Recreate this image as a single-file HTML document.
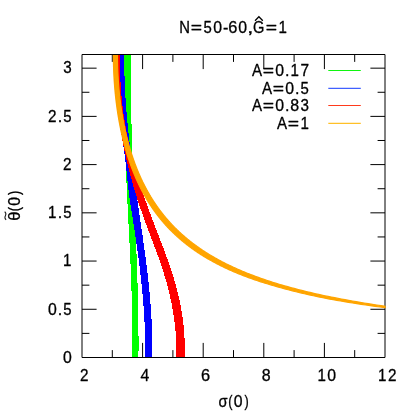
<!DOCTYPE html>
<html><head><meta charset="utf-8"><title>plot</title>
<style>html,body{margin:0;padding:0;background:#fff;overflow:hidden}svg{display:block;will-change:transform}</style></head>
<body>
<svg width="414" height="414" viewBox="0 0 414 414" font-family="Liberation Sans, sans-serif" font-size="15.9" fill="#000">
<style>text{stroke:#000;stroke-width:0.3px;stroke-linejoin:round}</style>
<rect width="414" height="414" fill="#fff"/>
<path d="M82.0,54.5H385.0V357.5H82.0ZM112.30,357.5v-7.4M112.30,54.5v7.4M142.60,357.5v-14.6M142.60,54.5v14.6M172.90,357.5v-7.4M172.90,54.5v7.4M203.20,357.5v-14.6M203.20,54.5v14.6M233.50,357.5v-7.4M233.50,54.5v7.4M263.80,357.5v-14.6M263.80,54.5v14.6M294.10,357.5v-7.4M294.10,54.5v7.4M324.40,357.5v-14.6M324.40,54.5v14.6M354.70,357.5v-7.4M354.70,54.5v7.4M82.0,333.39h7.4M385.0,333.39h-7.4M82.0,309.28h14.6M385.0,309.28h-14.6M82.0,285.16h7.4M385.0,285.16h-7.4M82.0,261.05h14.6M385.0,261.05h-14.6M82.0,236.94h7.4M385.0,236.94h-7.4M82.0,212.83h14.6M385.0,212.83h-14.6M82.0,188.72h7.4M385.0,188.72h-7.4M82.0,164.60h14.6M385.0,164.60h-14.6M82.0,140.49h7.4M385.0,140.49h-7.4M82.0,116.38h14.6M385.0,116.38h-14.6M82.0,92.27h7.4M385.0,92.27h-7.4M82.0,68.16h14.6M385.0,68.16h-14.6" fill="none" stroke="#000" stroke-width="1"/>
<clipPath id="c"><rect x="81.5" y="55.0" width="304.0" height="302.0"/></clipPath>
<g clip-path="url(#c)" shape-rendering="crispEdges">
<path d="M124.06,53.50 L124.06,54.78 L124.05,56.05 L124.04,57.33 L124.03,58.60 L124.02,59.88 L124.02,61.16 L124.01,62.43 L124.00,63.71 L124.00,64.99 L124.00,66.26 L123.99,67.54 L123.99,68.81 L123.99,70.09 L123.99,71.37 L123.99,72.64 L123.99,73.92 L123.99,75.19 L123.99,76.47 L123.99,77.75 L123.99,79.02 L124.00,80.30 L124.00,81.58 L124.01,82.85 L124.01,84.13 L124.02,85.40 L124.03,86.68 L124.03,87.96 L124.04,89.23 L124.05,90.51 L124.06,91.78 L124.07,93.06 L124.08,94.34 L124.09,95.61 L124.11,96.89 L124.12,98.17 L124.13,99.44 L124.15,100.72 L124.16,101.99 L124.18,103.27 L124.20,104.55 L124.21,105.82 L124.23,107.10 L124.25,108.37 L124.27,109.65 L124.29,110.93 L124.31,112.20 L124.33,113.48 L124.35,114.76 L124.38,116.03 L124.40,117.31 L124.42,118.58 L124.45,119.86 L124.47,121.14 L124.50,122.41 L124.53,123.69 L124.55,124.96 L124.58,126.24 L124.61,127.52 L124.64,128.79 L124.67,130.07 L124.70,131.35 L124.73,132.62 L124.76,133.90 L124.80,135.17 L124.83,136.45 L124.86,137.73 L124.90,139.00 L124.93,140.28 L124.97,141.55 L125.01,142.83 L125.04,144.11 L125.08,145.38 L125.12,146.66 L125.16,147.94 L125.20,149.21 L125.24,150.49 L125.28,151.76 L125.32,153.04 L125.36,154.32 L125.41,155.59 L125.45,156.87 L125.50,158.14 L125.54,159.42 L125.59,160.70 L125.63,161.97 L125.68,163.25 L125.73,164.53 L125.78,165.80 L125.82,167.08 L125.87,168.35 L125.92,169.63 L125.97,170.91 L126.03,172.18 L126.08,173.46 L126.13,174.73 L126.18,176.01 L126.24,177.29 L126.29,178.56 L126.35,179.84 L126.40,181.12 L126.46,182.39 L126.52,183.67 L126.57,184.94 L126.63,186.22 L126.69,187.50 L126.75,188.77 L126.81,190.05 L126.87,191.32 L126.93,192.60 L126.99,193.88 L127.05,195.15 L127.12,196.43 L127.18,197.71 L127.24,198.98 L127.31,200.26 L127.37,201.53 L127.43,202.81 L127.50,204.09 L127.56,205.36 L127.63,206.64 L127.69,207.91 L127.76,209.19 L127.82,210.47 L127.89,211.74 L127.95,213.02 L128.02,214.29 L128.08,215.57 L128.15,216.85 L128.22,218.12 L128.28,219.40 L128.35,220.68 L128.42,221.95 L128.48,223.23 L128.55,224.50 L128.62,225.78 L128.68,227.06 L128.75,228.33 L128.82,229.61 L128.88,230.88 L128.95,232.16 L129.01,233.44 L129.08,234.71 L129.14,235.99 L129.21,237.27 L129.28,238.54 L129.34,239.82 L129.41,241.09 L129.47,242.37 L129.53,243.65 L129.60,244.92 L129.66,246.20 L129.72,247.47 L129.79,248.75 L129.85,250.03 L129.91,251.30 L129.97,252.58 L130.03,253.86 L130.09,255.13 L130.15,256.41 L130.21,257.68 L130.27,258.96 L130.33,260.24 L130.39,261.51 L130.45,262.79 L130.50,264.06 L130.56,265.34 L130.61,266.62 L130.67,267.89 L130.72,269.17 L130.78,270.45 L130.83,271.72 L130.88,273.00 L130.93,274.27 L130.98,275.55 L131.03,276.83 L131.08,278.10 L131.13,279.38 L131.17,280.65 L131.22,281.93 L131.27,283.21 L131.31,284.48 L131.35,285.76 L131.39,287.04 L131.44,288.31 L131.48,289.59 L131.51,290.86 L131.55,292.14 L131.59,293.42 L131.63,294.69 L131.66,295.97 L131.69,297.24 L131.73,298.52 L131.76,299.80 L131.79,301.07 L131.82,302.35 L131.84,303.63 L131.87,304.90 L131.89,306.18 L131.92,307.45 L131.94,308.73 L131.96,310.01 L131.98,311.28 L132.00,312.56 L132.02,313.83 L132.03,315.11 L132.05,316.39 L132.06,317.66 L132.07,318.94 L132.08,320.22 L132.09,321.49 L132.09,322.77 L132.10,324.04 L132.10,325.32 L132.10,326.60 L132.10,327.87 L132.10,329.15 L132.10,330.42 L132.09,331.70 L132.09,332.98 L132.08,334.25 L132.07,335.53 L132.06,336.81 L132.04,338.08 L132.03,339.36 L132.01,340.63 L131.99,341.91 L131.97,343.19 L131.95,344.46 L131.92,345.74 L131.90,347.01 L131.87,348.29 L131.84,349.57 L131.81,350.84 L131.77,352.12 L131.74,353.40 L131.70,354.67 L131.66,355.95 L131.61,357.22 L131.60,358.50 L138.45,358.50 L138.45,357.22 L138.46,355.95 L138.47,354.67 L138.48,353.40 L138.49,352.12 L138.50,350.84 L138.50,349.57 L138.51,348.29 L138.51,347.01 L138.52,345.74 L138.52,344.46 L138.52,343.19 L138.52,341.91 L138.52,340.63 L138.51,339.36 L138.51,338.08 L138.50,336.81 L138.50,335.53 L138.49,334.25 L138.48,332.98 L138.48,331.70 L138.47,330.42 L138.45,329.15 L138.44,327.87 L138.43,326.60 L138.42,325.32 L138.40,324.04 L138.39,322.77 L138.37,321.49 L138.35,320.22 L138.34,318.94 L138.32,317.66 L138.30,316.39 L138.28,315.11 L138.25,313.83 L138.23,312.56 L138.21,311.28 L138.19,310.01 L138.16,308.73 L138.13,307.45 L138.11,306.18 L138.08,304.90 L138.05,303.63 L138.03,302.35 L138.00,301.07 L137.97,299.80 L137.94,298.52 L137.90,297.24 L137.87,295.97 L137.84,294.69 L137.81,293.42 L137.77,292.14 L137.74,290.86 L137.70,289.59 L137.66,288.31 L137.63,287.04 L137.59,285.76 L137.55,284.48 L137.51,283.21 L137.48,281.93 L137.44,280.65 L137.40,279.38 L137.36,278.10 L137.31,276.83 L137.27,275.55 L137.23,274.27 L137.19,273.00 L137.14,271.72 L137.10,270.45 L137.06,269.17 L137.01,267.89 L136.97,266.62 L136.92,265.34 L136.88,264.06 L136.83,262.79 L136.78,261.51 L136.73,260.24 L136.69,258.96 L136.64,257.68 L136.59,256.41 L136.54,255.13 L136.49,253.86 L136.44,252.58 L136.39,251.30 L136.34,250.03 L136.29,248.75 L136.24,247.47 L136.19,246.20 L136.14,244.92 L136.09,243.65 L136.04,242.37 L135.99,241.09 L135.94,239.82 L135.88,238.54 L135.83,237.27 L135.78,235.99 L135.73,234.71 L135.67,233.44 L135.62,232.16 L135.57,230.88 L135.51,229.61 L135.46,228.33 L135.41,227.06 L135.35,225.78 L135.30,224.50 L135.25,223.23 L135.19,221.95 L135.14,220.68 L135.08,219.40 L135.03,218.12 L134.97,216.85 L134.92,215.57 L134.87,214.29 L134.81,213.02 L134.76,211.74 L134.70,210.47 L134.65,209.19 L134.60,207.91 L134.54,206.64 L134.49,205.36 L134.43,204.09 L134.38,202.81 L134.33,201.53 L134.27,200.26 L134.22,198.98 L134.17,197.71 L134.11,196.43 L134.06,195.15 L134.01,193.88 L133.95,192.60 L133.90,191.32 L133.85,190.05 L133.79,188.77 L133.74,187.50 L133.69,186.22 L133.64,184.94 L133.59,183.67 L133.53,182.39 L133.48,181.12 L133.43,179.84 L133.38,178.56 L133.33,177.29 L133.28,176.01 L133.23,174.73 L133.18,173.46 L133.13,172.18 L133.08,170.91 L133.03,169.63 L132.98,168.35 L132.93,167.08 L132.88,165.80 L132.83,164.53 L132.78,163.25 L132.74,161.97 L132.69,160.70 L132.64,159.42 L132.60,158.14 L132.55,156.87 L132.50,155.59 L132.46,154.32 L132.41,153.04 L132.37,151.76 L132.32,150.49 L132.28,149.21 L132.23,147.94 L132.19,146.66 L132.15,145.38 L132.11,144.11 L132.06,142.83 L132.02,141.55 L131.98,140.28 L131.94,139.00 L131.90,137.73 L131.86,136.45 L131.82,135.17 L131.78,133.90 L131.74,132.62 L131.71,131.35 L131.67,130.07 L131.63,128.79 L131.59,127.52 L131.56,126.24 L131.52,124.96 L131.49,123.69 L131.45,122.41 L131.42,121.14 L131.39,119.86 L131.36,118.58 L131.32,117.31 L131.29,116.03 L131.26,114.76 L131.23,113.48 L131.20,112.20 L131.17,110.93 L131.14,109.65 L131.12,108.37 L131.09,107.10 L131.06,105.82 L131.04,104.55 L131.01,103.27 L130.99,101.99 L130.97,100.72 L130.94,99.44 L130.92,98.17 L130.90,96.89 L130.88,95.61 L130.86,94.34 L130.84,93.06 L130.82,91.78 L130.80,90.51 L130.79,89.23 L130.77,87.96 L130.75,86.68 L130.74,85.40 L130.73,84.13 L130.71,82.85 L130.70,81.58 L130.69,80.30 L130.68,79.02 L130.67,77.75 L130.66,76.47 L130.65,75.19 L130.64,73.92 L130.64,72.64 L130.63,71.37 L130.63,70.09 L130.62,68.81 L130.62,67.54 L130.62,66.26 L130.62,64.99 L130.62,63.71 L130.62,62.43 L130.62,61.16 L130.62,59.88 L130.62,58.60 L130.63,57.33 L130.63,56.05 L130.64,54.78 L130.64,53.50Z" fill="#00ff00"/>
<path d="M117.02,53.50 L117.02,54.78 L117.02,56.05 L117.02,57.33 L117.03,58.60 L117.03,59.88 L117.04,61.16 L117.05,62.43 L117.07,63.71 L117.08,64.99 L117.10,66.26 L117.12,67.54 L117.14,68.81 L117.17,70.09 L117.20,71.37 L117.23,72.64 L117.26,73.92 L117.29,75.19 L117.33,76.47 L117.37,77.75 L117.41,79.02 L117.46,80.30 L117.50,81.58 L117.55,82.85 L117.60,84.13 L117.66,85.40 L117.72,86.68 L117.78,87.96 L117.84,89.23 L117.90,90.51 L117.97,91.78 L118.04,93.06 L118.12,94.34 L118.19,95.61 L118.27,96.89 L118.35,98.17 L118.44,99.44 L118.52,100.72 L118.61,101.99 L118.70,103.27 L118.80,104.55 L118.90,105.82 L119.00,107.10 L119.10,108.37 L119.21,109.65 L119.32,110.93 L119.43,112.20 L119.55,113.48 L119.67,114.76 L119.79,116.03 L119.91,117.31 L120.04,118.58 L120.17,119.86 L120.30,121.14 L120.44,122.41 L120.58,123.69 L120.72,124.96 L120.87,126.24 L121.02,127.52 L121.17,128.79 L121.32,130.07 L121.48,131.35 L121.64,132.62 L121.81,133.90 L121.97,135.17 L122.14,136.45 L122.31,137.73 L122.48,139.00 L122.66,140.28 L122.83,141.55 L123.00,142.83 L123.18,144.11 L123.35,145.38 L123.53,146.66 L123.70,147.94 L123.87,149.21 L124.05,150.49 L124.22,151.76 L124.38,153.04 L124.55,154.32 L124.71,155.59 L124.88,156.87 L125.03,158.14 L125.19,159.42 L125.34,160.70 L125.49,161.97 L125.63,163.25 L125.78,164.53 L125.92,165.80 L126.06,167.08 L126.19,168.35 L126.33,169.63 L126.46,170.91 L126.59,172.18 L126.72,173.46 L126.85,174.73 L126.98,176.01 L127.12,177.29 L127.25,178.56 L127.38,179.84 L127.51,181.12 L127.65,182.39 L127.79,183.67 L127.93,184.94 L128.07,186.22 L128.21,187.50 L128.36,188.77 L128.51,190.05 L128.67,191.32 L128.83,192.60 L128.99,193.88 L129.16,195.15 L129.33,196.43 L129.50,197.71 L129.69,198.98 L129.87,200.26 L130.06,201.53 L130.25,202.81 L130.44,204.09 L130.64,205.36 L130.84,206.64 L131.04,207.91 L131.24,209.19 L131.44,210.47 L131.64,211.74 L131.84,213.02 L132.05,214.29 L132.25,215.57 L132.45,216.85 L132.65,218.12 L132.85,219.40 L133.05,220.68 L133.25,221.95 L133.45,223.23 L133.65,224.50 L133.85,225.78 L134.04,227.06 L134.24,228.33 L134.43,229.61 L134.62,230.88 L134.82,232.16 L135.01,233.44 L135.20,234.71 L135.39,235.99 L135.58,237.27 L135.76,238.54 L135.95,239.82 L136.14,241.09 L136.32,242.37 L136.50,243.65 L136.69,244.92 L136.87,246.20 L137.05,247.47 L137.22,248.75 L137.40,250.03 L137.58,251.30 L137.75,252.58 L137.92,253.86 L138.09,255.13 L138.26,256.41 L138.43,257.68 L138.60,258.96 L138.77,260.24 L138.93,261.51 L139.09,262.79 L139.25,264.06 L139.41,265.34 L139.57,266.62 L139.73,267.89 L139.88,269.17 L140.03,270.45 L140.19,271.72 L140.33,273.00 L140.48,274.27 L140.63,275.55 L140.77,276.83 L140.91,278.10 L141.05,279.38 L141.19,280.65 L141.33,281.93 L141.46,283.21 L141.60,284.48 L141.73,285.76 L141.85,287.04 L141.98,288.31 L142.11,289.59 L142.23,290.86 L142.35,292.14 L142.47,293.42 L142.58,294.69 L142.70,295.97 L142.81,297.24 L142.92,298.52 L143.02,299.80 L143.13,301.07 L143.23,302.35 L143.33,303.63 L143.43,304.90 L143.52,306.18 L143.61,307.45 L143.70,308.73 L143.79,310.01 L143.88,311.28 L143.96,312.56 L144.04,313.83 L144.12,315.11 L144.19,316.39 L144.26,317.66 L144.33,318.94 L144.40,320.22 L144.46,321.49 L144.52,322.77 L144.58,324.04 L144.64,325.32 L144.69,326.60 L144.74,327.87 L144.79,329.15 L144.83,330.42 L144.87,331.70 L144.91,332.98 L144.95,334.25 L144.98,335.53 L145.01,336.81 L145.03,338.08 L145.06,339.36 L145.08,340.63 L145.09,341.91 L145.11,343.19 L145.12,344.46 L145.13,345.74 L145.13,347.01 L145.13,348.29 L145.13,349.57 L145.12,350.84 L145.11,352.12 L145.10,353.40 L145.08,354.67 L145.07,355.95 L145.04,357.22 L145.04,358.50 L152.13,358.50 L152.14,357.22 L152.17,355.95 L152.20,354.67 L152.22,353.40 L152.24,352.12 L152.26,350.84 L152.27,349.57 L152.28,348.29 L152.28,347.01 L152.28,345.74 L152.28,344.46 L152.28,343.19 L152.27,341.91 L152.25,340.63 L152.24,339.36 L152.22,338.08 L152.19,336.81 L152.17,335.53 L152.14,334.25 L152.10,332.98 L152.07,331.70 L152.03,330.42 L151.98,329.15 L151.94,327.87 L151.89,326.60 L151.84,325.32 L151.78,324.04 L151.72,322.77 L151.66,321.49 L151.60,320.22 L151.53,318.94 L151.46,317.66 L151.39,316.39 L151.31,315.11 L151.23,313.83 L151.15,312.56 L151.07,311.28 L150.98,310.01 L150.89,308.73 L150.80,307.45 L150.70,306.18 L150.61,304.90 L150.51,303.63 L150.40,302.35 L150.30,301.07 L150.19,299.80 L150.08,298.52 L149.97,297.24 L149.86,295.97 L149.74,294.69 L149.62,293.42 L149.50,292.14 L149.38,290.86 L149.26,289.59 L149.13,288.31 L149.00,287.04 L148.87,285.76 L148.74,284.48 L148.60,283.21 L148.47,281.93 L148.33,280.65 L148.19,279.38 L148.05,278.10 L147.90,276.83 L147.76,275.55 L147.61,274.27 L147.46,273.00 L147.31,271.72 L147.16,270.45 L147.00,269.17 L146.85,267.89 L146.69,266.62 L146.53,265.34 L146.38,264.06 L146.21,262.79 L146.05,261.51 L145.89,260.24 L145.72,258.96 L145.56,257.68 L145.39,256.41 L145.22,255.13 L145.05,253.86 L144.88,252.58 L144.71,251.30 L144.54,250.03 L144.36,248.75 L144.19,247.47 L144.01,246.20 L143.84,244.92 L143.66,243.65 L143.48,242.37 L143.30,241.09 L143.13,239.82 L142.94,238.54 L142.76,237.27 L142.58,235.99 L142.40,234.71 L142.22,233.44 L142.03,232.16 L141.85,230.88 L141.67,229.61 L141.48,228.33 L141.30,227.06 L141.11,225.78 L140.93,224.50 L140.74,223.23 L140.55,221.95 L140.37,220.68 L140.18,219.40 L139.99,218.12 L139.81,216.85 L139.62,215.57 L139.43,214.29 L139.24,213.02 L139.06,211.74 L138.87,210.47 L138.68,209.19 L138.49,207.91 L138.31,206.64 L138.12,205.36 L137.93,204.09 L137.74,202.81 L137.56,201.53 L137.37,200.26 L137.18,198.98 L137.00,197.71 L136.81,196.43 L136.62,195.15 L136.44,193.88 L136.25,192.60 L136.07,191.32 L135.88,190.05 L135.70,188.77 L135.52,187.50 L135.33,186.22 L135.15,184.94 L134.97,183.67 L134.79,182.39 L134.61,181.12 L134.43,179.84 L134.25,178.56 L134.07,177.29 L133.89,176.01 L133.71,174.73 L133.54,173.46 L133.36,172.18 L133.19,170.91 L133.01,169.63 L132.84,168.35 L132.67,167.08 L132.50,165.80 L132.33,164.53 L132.16,163.25 L131.99,161.97 L131.82,160.70 L131.65,159.42 L131.49,158.14 L131.33,156.87 L131.16,155.59 L131.00,154.32 L130.84,153.04 L130.68,151.76 L130.52,150.49 L130.37,149.21 L130.21,147.94 L130.06,146.66 L129.91,145.38 L129.75,144.11 L129.61,142.83 L129.46,141.55 L129.31,140.28 L129.17,139.00 L129.02,137.73 L128.88,136.45 L128.74,135.17 L128.60,133.90 L128.46,132.62 L128.33,131.35 L128.19,130.07 L128.06,128.79 L127.93,127.52 L127.80,126.24 L127.68,124.96 L127.55,123.69 L127.43,122.41 L127.31,121.14 L127.19,119.86 L127.07,118.58 L126.96,117.31 L126.85,116.03 L126.74,114.76 L126.63,113.48 L126.52,112.20 L126.42,110.93 L126.31,109.65 L126.21,108.37 L126.12,107.10 L126.02,105.82 L125.93,104.55 L125.84,103.27 L125.75,101.99 L125.66,100.72 L125.58,99.44 L125.50,98.17 L125.42,96.89 L125.34,95.61 L125.27,94.34 L125.19,93.06 L125.13,91.78 L125.06,90.51 L125.00,89.23 L124.93,87.96 L124.88,86.68 L124.82,85.40 L124.77,84.13 L124.72,82.85 L124.67,81.58 L124.62,80.30 L124.58,79.02 L124.54,77.75 L124.51,76.47 L124.47,75.19 L124.44,73.92 L124.42,72.64 L124.39,71.37 L124.37,70.09 L124.35,68.81 L124.34,67.54 L124.33,66.26 L124.32,64.99 L124.31,63.71 L124.31,62.43 L124.31,61.16 L124.31,59.88 L124.32,58.60 L124.33,57.33 L124.35,56.05 L124.36,54.78 L124.37,53.50Z" fill="#0000ff"/>
<path d="M113.58,53.50 L113.57,54.78 L113.56,56.05 L113.56,57.33 L113.56,58.60 L113.56,59.88 L113.57,61.16 L113.59,62.43 L113.61,63.71 L113.64,64.99 L113.67,66.26 L113.71,67.54 L113.75,68.81 L113.80,70.09 L113.85,71.37 L113.90,72.64 L113.96,73.92 L114.03,75.19 L114.10,76.47 L114.18,77.75 L114.26,79.02 L114.34,80.30 L114.43,81.58 L114.52,82.85 L114.62,84.13 L114.72,85.40 L114.83,86.68 L114.94,87.96 L115.05,89.23 L115.17,90.51 L115.30,91.78 L115.42,93.06 L115.55,94.34 L115.69,95.61 L115.83,96.89 L115.97,98.17 L116.11,99.44 L116.26,100.72 L116.42,101.99 L116.57,103.27 L116.73,104.55 L116.90,105.82 L117.06,107.10 L117.23,108.37 L117.41,109.65 L117.59,110.93 L117.77,112.20 L117.95,113.48 L118.13,114.76 L118.32,116.03 L118.52,117.31 L118.71,118.58 L118.91,119.86 L119.11,121.14 L119.31,122.41 L119.52,123.69 L119.73,124.96 L119.94,126.24 L120.15,127.52 L120.37,128.79 L120.59,130.07 L120.81,131.35 L121.03,132.62 L121.26,133.90 L121.49,135.17 L121.72,136.45 L121.95,137.73 L122.19,139.00 L122.43,140.28 L122.67,141.55 L122.92,142.83 L123.17,144.11 L123.42,145.38 L123.67,146.66 L123.93,147.94 L124.20,149.21 L124.46,150.49 L124.73,151.76 L125.01,153.04 L125.28,154.32 L125.56,155.59 L125.85,156.87 L126.14,158.14 L126.43,159.42 L126.72,160.70 L127.02,161.97 L127.33,163.25 L127.63,164.53 L127.94,165.80 L128.26,167.08 L128.57,168.35 L128.90,169.63 L129.22,170.91 L129.55,172.18 L129.88,173.46 L130.22,174.73 L130.56,176.01 L130.90,177.29 L131.25,178.56 L131.60,179.84 L131.96,181.12 L132.31,182.39 L132.68,183.67 L133.04,184.94 L133.41,186.22 L133.79,187.50 L134.16,188.77 L134.54,190.05 L134.93,191.32 L135.32,192.60 L135.71,193.88 L136.11,195.15 L136.51,196.43 L136.91,197.71 L137.32,198.98 L137.73,200.26 L138.15,201.53 L138.57,202.81 L138.99,204.09 L139.42,205.36 L139.85,206.64 L140.28,207.91 L140.72,209.19 L141.16,210.47 L141.61,211.74 L142.06,213.02 L142.51,214.29 L142.97,215.57 L143.43,216.85 L143.89,218.12 L144.35,219.40 L144.82,220.68 L145.29,221.95 L145.76,223.23 L146.24,224.50 L146.71,225.78 L147.19,227.06 L147.67,228.33 L148.14,229.61 L148.62,230.88 L149.11,232.16 L149.59,233.44 L150.07,234.71 L150.55,235.99 L151.03,237.27 L151.51,238.54 L151.99,239.82 L152.47,241.09 L152.95,242.37 L153.43,243.65 L153.91,244.92 L154.39,246.20 L154.86,247.47 L155.33,248.75 L155.80,250.03 L156.27,251.30 L156.74,252.58 L157.20,253.86 L157.66,255.13 L158.12,256.41 L158.58,257.68 L159.03,258.96 L159.47,260.24 L159.92,261.51 L160.36,262.79 L160.80,264.06 L161.23,265.34 L161.66,266.62 L162.08,267.89 L162.50,269.17 L162.91,270.45 L163.32,271.72 L163.72,273.00 L164.12,274.27 L164.51,275.55 L164.89,276.83 L165.27,278.10 L165.64,279.38 L166.01,280.65 L166.37,281.93 L166.73,283.21 L167.08,284.48 L167.42,285.76 L167.76,287.04 L168.09,288.31 L168.41,289.59 L168.73,290.86 L169.04,292.14 L169.35,293.42 L169.65,294.69 L169.94,295.97 L170.23,297.24 L170.51,298.52 L170.79,299.80 L171.05,301.07 L171.32,302.35 L171.57,303.63 L171.82,304.90 L172.06,306.18 L172.30,307.45 L172.53,308.73 L172.75,310.01 L172.97,311.28 L173.18,312.56 L173.39,313.83 L173.58,315.11 L173.77,316.39 L173.96,317.66 L174.13,318.94 L174.31,320.22 L174.47,321.49 L174.63,322.77 L174.78,324.04 L174.92,325.32 L175.06,326.60 L175.19,327.87 L175.31,329.15 L175.43,330.42 L175.54,331.70 L175.64,332.98 L175.74,334.25 L175.83,335.53 L175.91,336.81 L175.99,338.08 L176.05,339.36 L176.12,340.63 L176.17,341.91 L176.22,343.19 L176.26,344.46 L176.29,345.74 L176.32,347.01 L176.34,348.29 L176.35,349.57 L176.35,350.84 L176.35,352.12 L176.34,353.40 L176.32,354.67 L176.30,355.95 L176.27,357.22 L176.26,358.50 L184.88,358.50 L184.88,357.22 L184.90,355.95 L184.91,354.67 L184.92,353.40 L184.92,352.12 L184.91,350.84 L184.90,349.57 L184.88,348.29 L184.86,347.01 L184.83,345.74 L184.79,344.46 L184.75,343.19 L184.70,341.91 L184.64,340.63 L184.58,339.36 L184.52,338.08 L184.44,336.81 L184.36,335.53 L184.28,334.25 L184.18,332.98 L184.08,331.70 L183.98,330.42 L183.87,329.15 L183.75,327.87 L183.62,326.60 L183.49,325.32 L183.35,324.04 L183.21,322.77 L183.05,321.49 L182.90,320.22 L182.73,318.94 L182.56,317.66 L182.38,316.39 L182.19,315.11 L182.00,313.83 L181.80,312.56 L181.59,311.28 L181.38,310.01 L181.16,308.73 L180.93,307.45 L180.70,306.18 L180.46,304.90 L180.21,303.63 L179.95,302.35 L179.69,301.07 L179.42,299.80 L179.14,298.52 L178.86,297.24 L178.57,295.97 L178.27,294.69 L177.96,293.42 L177.65,292.14 L177.33,290.86 L177.00,289.59 L176.66,288.31 L176.32,287.04 L175.97,285.76 L175.62,284.48 L175.26,283.21 L174.89,281.93 L174.51,280.65 L174.13,279.38 L173.75,278.10 L173.36,276.83 L172.96,275.55 L172.56,274.27 L172.15,273.00 L171.74,271.72 L171.32,270.45 L170.90,269.17 L170.47,267.89 L170.04,266.62 L169.60,265.34 L169.16,264.06 L168.72,262.79 L168.27,261.51 L167.82,260.24 L167.37,258.96 L166.91,257.68 L166.45,256.41 L165.99,255.13 L165.52,253.86 L165.05,252.58 L164.58,251.30 L164.10,250.03 L163.63,248.75 L163.15,247.47 L162.67,246.20 L162.19,244.92 L161.70,243.65 L161.22,242.37 L160.73,241.09 L160.24,239.82 L159.75,238.54 L159.26,237.27 L158.77,235.99 L158.28,234.71 L157.79,233.44 L157.30,232.16 L156.81,230.88 L156.32,229.61 L155.82,228.33 L155.33,227.06 L154.84,225.78 L154.35,224.50 L153.86,223.23 L153.38,221.95 L152.89,220.68 L152.41,219.40 L151.92,218.12 L151.44,216.85 L150.96,215.57 L150.49,214.29 L150.01,213.02 L149.54,211.74 L149.07,210.47 L148.60,209.19 L148.14,207.91 L147.68,206.64 L147.22,205.36 L146.77,204.09 L146.32,202.81 L145.87,201.53 L145.42,200.26 L144.98,198.98 L144.54,197.71 L144.10,196.43 L143.67,195.15 L143.24,193.88 L142.81,192.60 L142.39,191.32 L141.97,190.05 L141.55,188.77 L141.14,187.50 L140.73,186.22 L140.32,184.94 L139.92,183.67 L139.52,182.39 L139.12,181.12 L138.72,179.84 L138.33,178.56 L137.94,177.29 L137.56,176.01 L137.18,174.73 L136.80,173.46 L136.42,172.18 L136.05,170.91 L135.68,169.63 L135.32,168.35 L134.96,167.08 L134.60,165.80 L134.24,164.53 L133.89,163.25 L133.54,161.97 L133.20,160.70 L132.86,159.42 L132.52,158.14 L132.19,156.87 L131.86,155.59 L131.54,154.32 L131.22,153.04 L130.90,151.76 L130.59,150.49 L130.28,149.21 L129.97,147.94 L129.67,146.66 L129.38,145.38 L129.09,144.11 L128.80,142.83 L128.52,141.55 L128.24,140.28 L127.96,139.00 L127.69,137.73 L127.43,136.45 L127.17,135.17 L126.91,133.90 L126.66,132.62 L126.42,131.35 L126.18,130.07 L125.94,128.79 L125.71,127.52 L125.48,126.24 L125.26,124.96 L125.05,123.69 L124.83,122.41 L124.63,121.14 L124.42,119.86 L124.23,118.58 L124.04,117.31 L123.85,116.03 L123.66,114.76 L123.49,113.48 L123.31,112.20 L123.14,110.93 L122.98,109.65 L122.82,108.37 L122.66,107.10 L122.51,105.82 L122.37,104.55 L122.22,103.27 L122.09,101.99 L121.95,100.72 L121.83,99.44 L121.70,98.17 L121.58,96.89 L121.47,95.61 L121.36,94.34 L121.25,93.06 L121.15,91.78 L121.05,90.51 L120.96,89.23 L120.87,87.96 L120.79,86.68 L120.71,85.40 L120.63,84.13 L120.56,82.85 L120.49,81.58 L120.43,80.30 L120.37,79.02 L120.31,77.75 L120.26,76.47 L120.22,75.19 L120.17,73.92 L120.14,72.64 L120.10,71.37 L120.07,70.09 L120.04,68.81 L120.02,67.54 L120.00,66.26 L119.99,64.99 L119.98,63.71 L119.97,62.43 L119.97,61.16 L119.97,59.88 L119.98,58.60 L119.98,57.33 L120.00,56.05 L120.01,54.78 L120.02,53.50Z" fill="#ff0000"/>
<path d="M113.36,54.50 L113.36,55.16 L113.36,55.83 L113.37,56.49 L113.37,57.15 L113.37,57.81 L113.38,58.48 L113.39,59.14 L113.39,59.80 L113.40,60.46 L113.41,61.13 L113.43,61.79 L113.44,62.45 L113.45,63.12 L113.47,63.78 L113.48,64.44 L113.50,65.10 L113.52,65.77 L113.53,66.43 L113.55,67.09 L113.58,67.75 L113.60,68.42 L113.62,69.08 L113.64,69.74 L113.67,70.41 L113.70,71.07 L113.72,71.73 L113.75,72.39 L113.78,73.06 L113.81,73.72 L113.85,74.38 L113.88,75.04 L113.91,75.71 L113.95,76.37 L113.98,77.03 L114.02,77.69 L114.06,78.36 L114.10,79.02 L114.14,79.68 L114.18,80.35 L114.23,81.01 L114.27,81.67 L114.31,82.33 L114.36,83.00 L114.41,83.66 L114.46,84.32 L114.51,84.98 L114.56,85.65 L114.61,86.31 L114.66,86.97 L114.72,87.64 L114.77,88.30 L114.83,88.96 L114.89,89.62 L114.95,90.29 L115.01,90.95 L115.07,91.61 L115.13,92.27 L115.20,92.94 L115.26,93.60 L115.33,94.26 L115.39,94.93 L115.46,95.59 L115.53,96.25 L115.60,96.91 L115.68,97.58 L115.75,98.24 L115.82,98.90 L115.90,99.56 L115.98,100.23 L116.05,100.89 L116.13,101.55 L116.21,102.22 L116.30,102.88 L116.38,103.54 L116.46,104.20 L116.55,104.87 L116.64,105.53 L116.73,106.19 L116.82,106.85 L116.91,107.52 L117.00,108.18 L117.09,108.84 L117.19,109.50 L117.28,110.17 L117.38,110.83 L117.48,111.49 L117.58,112.16 L117.68,112.82 L117.78,113.48 L117.89,114.14 L117.99,114.81 L118.10,115.47 L118.21,116.13 L118.32,116.79 L118.43,117.46 L118.54,118.12 L118.65,118.78 L118.77,119.45 L118.89,120.11 L119.00,120.77 L119.12,121.43 L119.25,122.10 L119.37,122.76 L119.49,123.42 L119.62,124.08 L119.74,124.75 L119.87,125.41 L120.00,126.07 L120.13,126.74 L120.27,127.40 L120.40,128.06 L120.54,128.72 L120.67,129.39 L120.81,130.05 L120.95,130.71 L121.09,131.37 L121.24,132.04 L121.38,132.70 L121.53,133.36 L121.68,134.03 L121.83,134.69 L121.98,135.35 L122.13,136.01 L122.29,136.68 L122.45,137.34 L122.60,138.00 L122.76,138.66 L122.93,139.33 L123.09,139.99 L123.25,140.65 L123.42,141.31 L123.59,141.98 L123.76,142.64 L123.93,143.30 L124.11,143.97 L124.28,144.63 L124.46,145.29 L124.64,145.95 L124.82,146.62 L125.00,147.28 L125.19,147.94 L125.38,148.60 L125.56,149.27 L125.76,149.93 L125.95,150.59 L126.14,151.26 L126.34,151.92 L126.54,152.58 L126.74,153.24 L126.94,153.91 L127.15,154.57 L127.35,155.23 L127.56,155.89 L127.77,156.56 L127.99,157.22 L128.20,157.88 L128.42,158.55 L128.64,159.21 L128.86,159.87 L129.08,160.53 L129.31,161.20 L129.54,161.86 L129.77,162.52 L130.00,163.18 L130.23,163.85 L130.47,164.51 L130.71,165.17 L130.95,165.84 L131.20,166.50 L131.44,167.16 L131.69,167.82 L131.94,168.49 L132.19,169.15 L132.45,169.81 L132.71,170.47 L132.97,171.14 L133.23,171.80 L133.49,172.46 L133.76,173.12 L134.03,173.79 L134.30,174.45 L134.58,175.11 L134.86,175.78 L135.14,176.44 L135.42,177.10 L135.70,177.76 L135.99,178.43 L136.28,179.09 L136.58,179.75 L136.87,180.41 L137.17,181.08 L137.47,181.74 L137.78,182.40 L138.09,183.07 L138.40,183.73 L138.71,184.39 L139.03,185.05 L139.35,185.72 L139.67,186.38 L140.00,187.04 L140.33,187.70 L140.66,188.37 L141.00,189.03 L141.34,189.69 L141.68,190.36 L142.03,191.02 L142.38,191.68 L142.73,192.34 L143.09,193.01 L143.45,193.67 L143.81,194.33 L144.18,194.99 L144.55,195.66 L144.92,196.32 L145.30,196.98 L145.69,197.65 L146.07,198.31 L146.46,198.97 L146.86,199.63 L147.26,200.30 L147.66,200.96 L148.07,201.62 L148.48,202.28 L148.89,202.95 L149.31,203.61 L149.74,204.27 L150.17,204.93 L150.60,205.60 L151.04,206.26 L151.48,206.92 L151.93,207.59 L152.38,208.25 L152.84,208.91 L153.30,209.57 L153.77,210.24 L154.24,210.90 L154.72,211.56 L155.20,212.22 L155.69,212.89 L156.18,213.55 L156.68,214.21 L157.18,214.88 L157.69,215.54 L158.21,216.20 L158.73,216.86 L159.25,217.53 L159.78,218.19 L160.32,218.85 L160.86,219.51 L161.41,220.18 L161.97,220.84 L162.53,221.50 L163.09,222.17 L163.67,222.83 L164.25,223.49 L164.83,224.15 L165.42,224.82 L166.02,225.48 L166.63,226.14 L167.24,226.80 L167.86,227.47 L168.49,228.13 L169.12,228.79 L169.77,229.46 L170.42,230.12 L171.07,230.78 L171.74,231.44 L172.41,232.11 L173.09,232.77 L173.78,233.43 L174.47,234.09 L175.18,234.76 L175.89,235.42 L176.61,236.08 L177.34,236.74 L178.08,237.41 L178.83,238.07 L179.59,238.73 L180.35,239.40 L181.13,240.06 L181.91,240.72 L182.71,241.38 L183.52,242.05 L184.33,242.71 L185.16,243.37 L185.99,244.03 L186.84,244.70 L187.70,245.36 L188.57,246.02 L189.45,246.69 L190.34,247.35 L191.25,248.01 L192.16,248.67 L193.09,249.34 L194.03,250.00 L194.98,250.66 L195.95,251.32 L196.93,251.99 L197.92,252.65 L198.92,253.31 L199.94,253.98 L200.98,254.64 L202.03,255.30 L203.09,255.96 L204.17,256.63 L205.26,257.29 L206.37,257.95 L207.49,258.61 L208.64,259.28 L209.79,259.94 L210.97,260.60 L212.16,261.27 L213.37,261.93 L214.59,262.59 L215.84,263.25 L217.10,263.92 L218.39,264.58 L219.69,265.24 L221.01,265.90 L222.36,266.57 L223.72,267.23 L225.11,267.89 L226.52,268.55 L227.95,269.22 L229.42,269.88 L230.91,270.54 L232.42,271.21 L233.97,271.87 L235.54,272.53 L237.14,273.19 L238.77,273.86 L240.43,274.52 L242.12,275.18 L243.84,275.84 L245.59,276.51 L247.37,277.17 L249.19,277.83 L251.03,278.50 L252.92,279.16 L254.83,279.82 L256.78,280.48 L258.77,281.15 L260.79,281.81 L262.85,282.47 L264.94,283.13 L267.08,283.80 L269.25,284.46 L271.47,285.12 L273.72,285.79 L276.02,286.45 L278.36,287.11 L280.74,287.77 L283.17,288.44 L285.65,289.10 L288.17,289.76 L290.74,290.42 L293.36,291.09 L296.03,291.75 L298.76,292.41 L301.54,293.08 L304.39,293.74 L307.29,294.40 L310.27,295.06 L313.31,295.73 L316.42,296.39 L319.61,297.05 L322.87,297.71 L326.22,298.38 L329.65,299.04 L333.17,299.70 L336.80,300.36 L340.55,301.03 L344.42,301.69 L348.42,302.35 L352.54,303.02 L356.79,303.68 L361.16,304.34 L365.66,305.00 L370.30,305.67 L375.07,306.33 L379.97,306.99 L384.83,307.65 L389.61,308.32 L394.54,308.98 L399.59,309.64 L404.80,310.31 L410.15,310.97 L415.66,311.63 L421.33,312.29 L427.17,312.96 L433.19,313.62 L439.39,314.28 L445.79,314.94 L452.40,315.61 L459.22,316.27 L466.26,316.93 L473.54,317.60 L481.07,318.26 L488.86,318.92 L502.13,318.92 L494.12,318.26 L486.38,317.60 L478.89,316.93 L471.65,316.27 L464.63,315.61 L457.84,314.94 L451.26,314.28 L444.88,313.62 L438.69,312.96 L432.68,312.29 L426.85,311.63 L421.18,310.97 L415.68,310.31 L410.33,309.64 L405.13,308.98 L400.07,308.32 L395.14,307.65 L390.35,306.99 L385.69,306.33 L381.15,305.67 L376.73,305.00 L372.42,304.34 L368.22,303.68 L364.12,303.02 L360.12,302.35 L356.21,301.69 L352.40,301.03 L348.68,300.36 L345.05,299.70 L341.50,299.04 L338.03,298.38 L334.64,297.71 L331.32,297.05 L328.08,296.39 L324.90,295.73 L321.80,295.06 L318.76,294.40 L315.79,293.74 L312.88,293.08 L310.03,292.41 L307.24,291.75 L304.51,291.09 L301.83,290.42 L299.20,289.76 L296.63,289.10 L294.11,288.44 L291.63,287.77 L289.21,287.11 L286.83,286.45 L284.49,285.79 L282.20,285.12 L279.95,284.46 L277.75,283.80 L275.58,283.13 L273.45,282.47 L271.37,281.81 L269.31,281.15 L267.30,280.48 L265.32,279.82 L263.37,279.16 L261.46,278.50 L259.58,277.83 L257.74,277.17 L255.92,276.51 L254.14,275.84 L252.38,275.18 L250.66,274.52 L248.96,273.86 L247.29,273.19 L245.64,272.53 L244.03,271.87 L242.44,271.21 L240.87,270.54 L239.33,269.88 L237.81,269.22 L236.32,268.55 L234.85,267.89 L233.40,267.23 L231.97,266.57 L230.57,265.90 L229.18,265.24 L227.82,264.58 L226.48,263.92 L225.16,263.25 L223.85,262.59 L222.57,261.93 L221.30,261.27 L220.05,260.60 L218.82,259.94 L217.61,259.28 L216.42,258.61 L215.24,257.95 L214.08,257.29 L212.93,256.63 L211.80,255.96 L210.68,255.30 L209.58,254.64 L208.50,253.98 L207.43,253.31 L206.38,252.65 L205.33,251.99 L204.31,251.32 L203.29,250.66 L202.29,250.00 L201.30,249.34 L200.33,248.67 L199.37,248.01 L198.42,247.35 L197.48,246.69 L196.56,246.02 L195.64,245.36 L194.74,244.70 L193.85,244.03 L192.97,243.37 L192.10,242.71 L191.24,242.05 L190.39,241.38 L189.56,240.72 L188.73,240.06 L187.91,239.40 L187.11,238.73 L186.31,238.07 L185.52,237.41 L184.75,236.74 L183.98,236.08 L183.22,235.42 L182.47,234.76 L181.73,234.09 L180.99,233.43 L180.27,232.77 L179.55,232.11 L178.84,231.44 L178.14,230.78 L177.45,230.12 L176.77,229.46 L176.09,228.79 L175.43,228.13 L174.76,227.47 L174.11,226.80 L173.47,226.14 L172.83,225.48 L172.20,224.82 L171.57,224.15 L170.95,223.49 L170.34,222.83 L169.74,222.17 L169.14,221.50 L168.55,220.84 L167.97,220.18 L167.39,219.51 L166.82,218.85 L166.25,218.19 L165.69,217.53 L165.14,216.86 L164.59,216.20 L164.05,215.54 L163.52,214.88 L162.99,214.21 L162.46,213.55 L161.94,212.89 L161.43,212.22 L160.92,211.56 L160.42,210.90 L159.92,210.24 L159.43,209.57 L158.94,208.91 L158.46,208.25 L157.98,207.59 L157.51,206.92 L157.04,206.26 L156.58,205.60 L156.12,204.93 L155.67,204.27 L155.22,203.61 L154.77,202.95 L154.34,202.28 L153.90,201.62 L153.47,200.96 L153.04,200.30 L152.62,199.63 L152.20,198.97 L151.79,198.31 L151.38,197.65 L150.98,196.98 L150.57,196.32 L150.18,195.66 L149.78,194.99 L149.39,194.33 L149.01,193.67 L148.63,193.01 L148.25,192.34 L147.88,191.68 L147.51,191.02 L147.14,190.36 L146.78,189.69 L146.42,189.03 L146.06,188.37 L145.71,187.70 L145.36,187.04 L145.01,186.38 L144.67,185.72 L144.33,185.05 L144.00,184.39 L143.66,183.73 L143.33,183.07 L143.01,182.40 L142.68,181.74 L142.37,181.08 L142.05,180.41 L141.74,179.75 L141.42,179.09 L141.12,178.43 L140.81,177.76 L140.51,177.10 L140.21,176.44 L139.92,175.78 L139.62,175.11 L139.33,174.45 L139.05,173.79 L138.76,173.12 L138.48,172.46 L138.20,171.80 L137.93,171.14 L137.65,170.47 L137.38,169.81 L137.11,169.15 L136.85,168.49 L136.59,167.82 L136.33,167.16 L136.07,166.50 L135.81,165.84 L135.56,165.17 L135.31,164.51 L135.06,163.85 L134.81,163.18 L134.57,162.52 L134.33,161.86 L134.09,161.20 L133.86,160.53 L133.62,159.87 L133.39,159.21 L133.16,158.55 L132.93,157.88 L132.71,157.22 L132.49,156.56 L132.27,155.89 L132.05,155.23 L131.83,154.57 L131.62,153.91 L131.41,153.24 L131.20,152.58 L130.99,151.92 L130.78,151.26 L130.58,150.59 L130.38,149.93 L130.18,149.27 L129.98,148.60 L129.79,147.94 L129.59,147.28 L129.40,146.62 L129.21,145.95 L129.03,145.29 L128.84,144.63 L128.66,143.97 L128.47,143.30 L128.29,142.64 L128.12,141.98 L127.94,141.31 L127.77,140.65 L127.59,139.99 L127.42,139.33 L127.25,138.66 L127.09,138.00 L126.92,137.34 L126.76,136.68 L126.60,136.01 L126.43,135.35 L126.28,134.69 L126.12,134.03 L125.96,133.36 L125.81,132.70 L125.66,132.04 L125.51,131.37 L125.36,130.71 L125.21,130.05 L125.07,129.39 L124.93,128.72 L124.78,128.06 L124.64,127.40 L124.51,126.74 L124.37,126.07 L124.23,125.41 L124.10,124.75 L123.97,124.08 L123.84,123.42 L123.71,122.76 L123.58,122.10 L123.45,121.43 L123.33,120.77 L123.21,120.11 L123.08,119.45 L122.96,118.78 L122.84,118.12 L122.73,117.46 L122.61,116.79 L122.50,116.13 L122.38,115.47 L122.27,114.81 L122.16,114.14 L122.05,113.48 L121.95,112.82 L121.84,112.16 L121.74,111.49 L121.63,110.83 L121.53,110.17 L121.43,109.50 L121.33,108.84 L121.24,108.18 L121.14,107.52 L121.05,106.85 L120.95,106.19 L120.86,105.53 L120.77,104.87 L120.68,104.20 L120.59,103.54 L120.51,102.88 L120.42,102.22 L120.34,101.55 L120.25,100.89 L120.17,100.23 L120.09,99.56 L120.01,98.90 L119.94,98.24 L119.86,97.58 L119.78,96.91 L119.71,96.25 L119.64,95.59 L119.57,94.93 L119.50,94.26 L119.43,93.60 L119.36,92.94 L119.29,92.27 L119.23,91.61 L119.17,90.95 L119.10,90.29 L119.04,89.62 L118.98,88.96 L118.92,88.30 L118.87,87.64 L118.81,86.97 L118.75,86.31 L118.70,85.65 L118.65,84.98 L118.60,84.32 L118.55,83.66 L118.50,83.00 L118.45,82.33 L118.40,81.67 L118.36,81.01 L118.31,80.35 L118.27,79.68 L118.23,79.02 L118.19,78.36 L118.15,77.69 L118.11,77.03 L118.07,76.37 L118.03,75.71 L118.00,75.04 L117.97,74.38 L117.93,73.72 L117.90,73.06 L117.87,72.39 L117.84,71.73 L117.81,71.07 L117.79,70.41 L117.76,69.74 L117.74,69.08 L117.71,68.42 L117.69,67.75 L117.67,67.09 L117.65,66.43 L117.63,65.77 L117.61,65.10 L117.60,64.44 L117.58,63.78 L117.57,63.12 L117.55,62.45 L117.54,61.79 L117.53,61.13 L117.52,60.46 L117.51,59.80 L117.50,59.14 L117.50,58.48 L117.49,57.81 L117.49,57.15 L117.48,56.49 L117.48,55.83 L117.48,55.16 L117.48,54.50Z" fill="#ffa500" stroke="#ffa500" stroke-width="1.2" stroke-linejoin="round" shape-rendering="geometricPrecision"/>
</g>
<path d="M328.3,70.50H360.8" stroke="#10f510" stroke-width="1.1" fill="none"/>
<text x="252.09" y="76.20" textLength="10.08" lengthAdjust="spacingAndGlyphs">A</text>
<text x="262.65" y="76.20" textLength="11.29" lengthAdjust="spacingAndGlyphs">=</text>
<text x="275.37" y="76.20" textLength="8.79" lengthAdjust="spacingAndGlyphs">0</text>
<text x="285.12" y="76.20" textLength="4.51" lengthAdjust="spacingAndGlyphs">.</text>
<text x="290.50" y="76.20" textLength="8.40" lengthAdjust="spacingAndGlyphs">1</text>
<text x="300.44" y="76.20" textLength="8.60" lengthAdjust="spacingAndGlyphs">7</text>
<path d="M328.3,88.35H360.8" stroke="#4060ff" stroke-width="1.1" fill="none"/>
<text x="262.09" y="93.80" textLength="10.08" lengthAdjust="spacingAndGlyphs">A</text>
<text x="272.65" y="93.80" textLength="11.29" lengthAdjust="spacingAndGlyphs">=</text>
<text x="285.37" y="93.80" textLength="8.79" lengthAdjust="spacingAndGlyphs">0</text>
<text x="295.12" y="93.80" textLength="4.51" lengthAdjust="spacingAndGlyphs">.</text>
<text x="300.56" y="93.80" textLength="8.30" lengthAdjust="spacingAndGlyphs">5</text>
<path d="M328.3,105.55H360.8" stroke="#ff3a1c" stroke-width="1.1" fill="none"/>
<text x="252.09" y="111.40" textLength="10.08" lengthAdjust="spacingAndGlyphs">A</text>
<text x="262.65" y="111.40" textLength="11.29" lengthAdjust="spacingAndGlyphs">=</text>
<text x="275.37" y="111.40" textLength="8.79" lengthAdjust="spacingAndGlyphs">0</text>
<text x="285.12" y="111.40" textLength="4.51" lengthAdjust="spacingAndGlyphs">.</text>
<text x="290.32" y="111.40" textLength="8.89" lengthAdjust="spacingAndGlyphs">8</text>
<text x="300.56" y="111.40" textLength="8.45" lengthAdjust="spacingAndGlyphs">3</text>
<path d="M328.3,123.35H360.8" stroke="#ffc028" stroke-width="1.1" fill="none"/>
<text x="277.09" y="129.00" textLength="10.08" lengthAdjust="spacingAndGlyphs">A</text>
<text x="287.65" y="129.00" textLength="11.29" lengthAdjust="spacingAndGlyphs">=</text>
<text x="300.50" y="129.00" textLength="8.40" lengthAdjust="spacingAndGlyphs">1</text>
<text x="79.93" y="381.20" textLength="8.48" lengthAdjust="spacingAndGlyphs">2</text>
<text x="140.57" y="381.20" textLength="8.79" lengthAdjust="spacingAndGlyphs">4</text>
<text x="201.02" y="381.20" textLength="9.10" lengthAdjust="spacingAndGlyphs">6</text>
<text x="261.72" y="381.20" textLength="8.89" lengthAdjust="spacingAndGlyphs">8</text>
<text x="317.50" y="381.20" textLength="8.40" lengthAdjust="spacingAndGlyphs">1</text>
<text x="327.37" y="381.20" textLength="8.79" lengthAdjust="spacingAndGlyphs">0</text>
<text x="378.10" y="381.20" textLength="8.40" lengthAdjust="spacingAndGlyphs">1</text>
<text x="387.93" y="381.20" textLength="8.48" lengthAdjust="spacingAndGlyphs">2</text>
<text x="62.97" y="362.75" textLength="8.79" lengthAdjust="spacingAndGlyphs">0</text>
<text x="47.97" y="314.53" textLength="8.79" lengthAdjust="spacingAndGlyphs">0</text>
<text x="57.72" y="314.53" textLength="4.51" lengthAdjust="spacingAndGlyphs">.</text>
<text x="63.16" y="314.53" textLength="8.30" lengthAdjust="spacingAndGlyphs">5</text>
<text x="63.10" y="266.30" textLength="8.40" lengthAdjust="spacingAndGlyphs">1</text>
<text x="48.10" y="218.08" textLength="8.40" lengthAdjust="spacingAndGlyphs">1</text>
<text x="57.72" y="218.08" textLength="4.51" lengthAdjust="spacingAndGlyphs">.</text>
<text x="63.16" y="218.08" textLength="8.30" lengthAdjust="spacingAndGlyphs">5</text>
<text x="62.93" y="169.85" textLength="8.48" lengthAdjust="spacingAndGlyphs">2</text>
<text x="47.93" y="121.63" textLength="8.48" lengthAdjust="spacingAndGlyphs">2</text>
<text x="57.72" y="121.63" textLength="4.51" lengthAdjust="spacingAndGlyphs">.</text>
<text x="63.16" y="121.63" textLength="8.30" lengthAdjust="spacingAndGlyphs">5</text>
<text x="63.16" y="73.41" textLength="8.45" lengthAdjust="spacingAndGlyphs">3</text>
<text x="179.26" y="32.80" textLength="10.70" lengthAdjust="spacingAndGlyphs">N</text>
<text x="190.65" y="32.80" textLength="11.29" lengthAdjust="spacingAndGlyphs">=</text>
<text x="203.56" y="32.80" textLength="8.30" lengthAdjust="spacingAndGlyphs">5</text>
<text x="213.37" y="32.80" textLength="8.79" lengthAdjust="spacingAndGlyphs">0</text>
<text x="223.01" y="32.80" textLength="5.38" lengthAdjust="spacingAndGlyphs">-</text>
<text x="228.22" y="32.80" textLength="9.10" lengthAdjust="spacingAndGlyphs">6</text>
<text x="238.37" y="32.80" textLength="8.79" lengthAdjust="spacingAndGlyphs">0</text>
<text x="247.19" y="32.80" textLength="6.07" lengthAdjust="spacingAndGlyphs">,</text>
<text x="253.11" y="32.80" textLength="11.38" lengthAdjust="spacingAndGlyphs">G</text>
<text x="265.65" y="32.80" textLength="11.29" lengthAdjust="spacingAndGlyphs">=</text>
<text x="278.50" y="32.80" textLength="8.40" lengthAdjust="spacingAndGlyphs">1</text>
<path d="M255.00,20.7L258.90,16.7L262.80,20.7" fill="none" stroke="#000" stroke-width="1.25"/>
<text x="218.41" y="407.20" textLength="9.08" lengthAdjust="spacingAndGlyphs">σ</text>
<text x="228.30" y="407.20" textLength="4.22" lengthAdjust="spacingAndGlyphs">(</text>
<text x="233.77" y="407.20" textLength="8.79" lengthAdjust="spacingAndGlyphs">0</text>
<text x="244.53" y="407.20" textLength="4.22" lengthAdjust="spacingAndGlyphs">)</text>
<g transform="translate(20.3,220.70) rotate(-90)">
<text x="-0.03" y="0.00" textLength="9.25" lengthAdjust="spacingAndGlyphs">θ</text>
<text x="9.50" y="0.00" textLength="4.22" lengthAdjust="spacingAndGlyphs">(</text>
<text x="14.97" y="0.00" textLength="8.79" lengthAdjust="spacingAndGlyphs">0</text>
<text x="25.73" y="0.00" textLength="4.22" lengthAdjust="spacingAndGlyphs">)</text>
<path d="M0.9,-14.2c1.4,-1.5 2.7,-1.5 4.1,-0.7s2.7,0.8 4.1,-0.7" fill="none" stroke="#222" stroke-width="1.05"/>
</g>
</svg>
</body></html>
